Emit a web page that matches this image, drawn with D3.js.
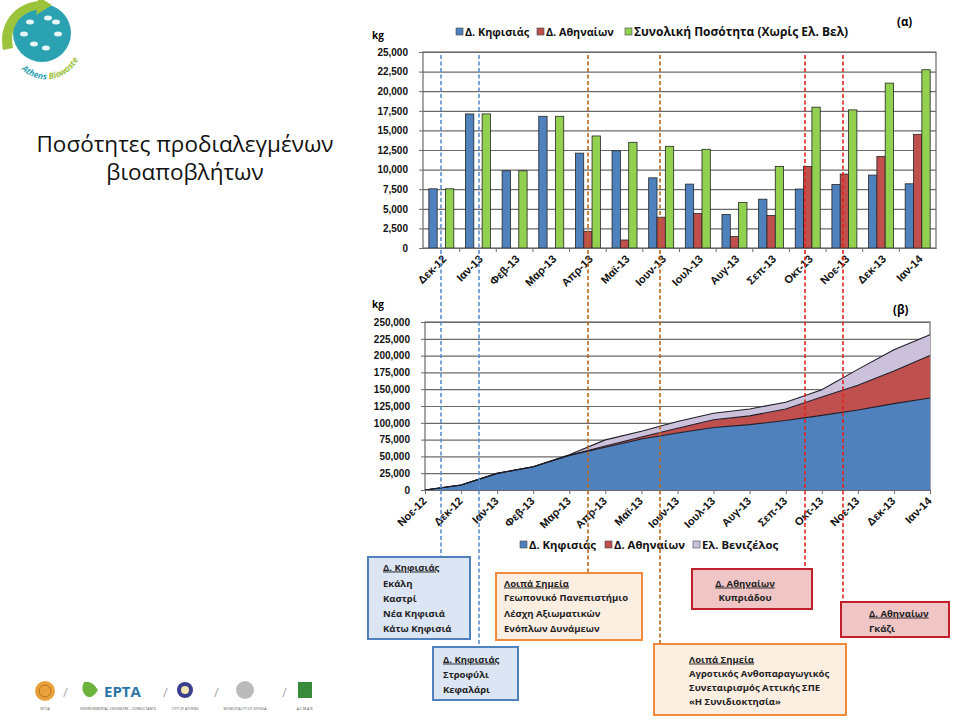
<!DOCTYPE html>
<html><head><meta charset="utf-8">
<script src="https://cdn.jsdelivr.net/npm/d3@7"></script>
<style>
body{margin:0;background:#fff;}
svg{display:block;font-family:"Open Sans","Noto Sans",sans-serif;}
</style></head>
<body><svg id="c" width="960" height="720"></svg>
<script>
// ---------- DATA ----------
const barCats = ["Δεκ-12","Ιαν-13","Φεβ-13","Μαρ-13","Απρ-13","Μαϊ-13","Ιουν-13","Ιουλ-13","Αυγ-13","Σεπ-13","Οκτ-13","Νοε-13","Δεκ-13","Ιαν-14"];
const barKifisia   = [7550,17100,9850,16800,12100,12400,8950,8150,4270,6230,7520,8100,9300,8190];
const barAthinaion = [0,0,0,0,2130,1020,3930,4390,1450,4140,10410,9430,11690,14500];
const barTotal     = [7550,17100,9850,16800,14290,13480,12970,12590,5800,10410,17960,17620,21030,22740];
const barSeriesNames = ["Δ. Κηφισιάς","Δ. Αθηναίων","Συνολική Ποσότητα (Χωρίς Ελ. Βελ)"];
const yTicksTop = [0,2500,5000,7500,10000,12500,15000,17500,20000,22500,25000];

const areaCats = ["Νοε-12","Δεκ-12","Ιαν-13","Φεβ-13","Μαρ-13","Απρ-13","Μαϊ-13","Ιουν-13","Ιουλ-13","Αυγ-13","Σεπ-13","Οκτ-13","Νοε-13","Δεκ-13","Ιαν-14"];
const areaKifisia   = [0,7500,24700,34600,51500,63500,75800,84800,93000,97300,103500,111000,119000,128500,137000];
const areaAthinaion = [0,0,0,0,0,2100,3200,7100,11500,13000,17100,27500,37000,48700,63200];
const areaVenizelos = [0,0,0,0,800,9000,8500,10000,9800,10300,9900,10800,23500,31500,31000];
const areaSeriesNames = ["Δ. Κηφισιάς","Δ. Αθηναίων","Ελ. Βενιζέλος"];
const yTicksBottom = [0,25000,50000,75000,100000,125000,150000,175000,200000,225000,250000];

const title = ["Ποσότητες προδιαλεγμένων","βιοαποβλήτων"];

const markers = [
  {color:"#5b8fd0", end:557},
  {color:"#5b8fd0", end:647},
  {color:"#b8661e", end:573},
  {color:"#b8661e", end:644},
  {color:"#e3241f", end:569},
  {color:"#e3241f", end:602}
];
const boxes = [
  {x:368,y:557,w:102,h:82, fill:"#dbe5f3", stroke:"#4f81bd", tx:383, anchor:"start", lines:["Δ.  Κηφισιάς","Εκάλη","Καστρί","Νέα Κηφισιά","Κάτω Κηφισιά"], ys:[567,583,598,613,628]},
  {x:433,y:647,w:85,h:53, fill:"#dbe5f3", stroke:"#4f81bd", tx:443, anchor:"start", lines:["Δ.  Κηφισιάς","Στροφύλι","Κεφαλάρι"], ys:[659,674,689]},
  {x:496,y:573,w:146,h:67, fill:"#fdeee2", stroke:"#f08a3c", tx:504, anchor:"start", lines:["Λοιπά Σημεία","Γεωπονικό Πανεπιστήμιο","Λέσχη Αξιωματικών","Ενόπλων Δυνάμεων"], ys:[583,597,613,628]},
  {x:654,y:644,w:192,h:71, fill:"#fdeee2", stroke:"#f08a3c", tx:689, anchor:"start", lines:["Λοιπά Σημεία","Αγροτικός Ανθοπαραγωγικός","Συνεταιρισμός Αττικής ΣΠΕ","«Η Συνιδιοκτησία»"], ys:[659,673,687,701]},
  {x:692,y:569,w:120,h:40, fill:"#f0c5c6", stroke:"#c0202a", tx:745, anchor:"middle", lines:["Δ.  Αθηναίων","Κυπριάδου"], ys:[583,597]},
  {x:841,y:602,w:108,h:35, fill:"#f0c5c6", stroke:"#c0202a", tx:869, anchor:"start", lines:["Δ.  Αθηναίων","Γκάζι"], ys:[613,628]}
];

// ---------- DRAW ----------
const svg = d3.select("#c");
const fmt = d3.format(",");
const cBlue="#4f81bd", cRed="#c0504d", cGreen="#92d050", cPurple="#ccc1da";
const grid="#6b6b6b";

// logo
const logo = svg.append("g");
logo.append("circle").attr("cx",42).attr("cy",33).attr("r",29).attr("fill","#2ba2b2");
logo.append("path").attr("d","M3,50 C-2,24 14,4 38,1 L37,-4 L52,5 L36,15 L37,10 C20,12 9,28 13,48 Z").attr("fill","#9cc33c");
[[30,22],[48,18],[58,34],[34,44],[46,48],[24,34],[56,22]].forEach(p=>{
  logo.append("ellipse").attr("cx",p[0]).attr("cy",p[1]).attr("rx",4).attr("ry",2.5).attr("fill","#e9f6f7");
});
logo.append("path").attr("id","lgarc").attr("d","M20,68 A36,36 0 0 0 82,40").attr("fill","none");
logo.append("text").attr("font-size",8.5).attr("font-style","italic").attr("font-weight","bold")
  .append("textPath").attr("href","#lgarc").attr("startOffset","2%")
  .selectAll("tspan").data([["Athens ","#2ba2b2"],["Biowaste","#9cc33c"]]).join("tspan")
  .attr("fill",d=>d[1]).text(d=>d[0]);

// title
svg.append("g").selectAll("text").data(title).join("text")
  .attr("x",185).attr("y",(d,i)=>152+i*28).attr("text-anchor","middle")
  .attr("font-size",22.5).attr("fill","#111").text(d=>d);

// ---------- TOP BAR CHART ----------
const gTop = svg.append("g");
const x0 = d3.scaleBand().domain(barCats).range([423,936]).paddingInner(0.318).paddingOuter(0.159);
const x1 = d3.scaleBand().domain([0,1,2]).range([0,x0.bandwidth()]);
const yT = d3.scaleLinear().domain([0,25000]).range([248,52]);
const gy = gTop.append("g").attr("transform","translate(423,0)")
  .call(d3.axisLeft(yT).tickValues(yTicksTop).tickSize(-513).tickSizeOuter(0).tickFormat(fmt));
gy.select(".domain").remove();
gy.selectAll("line").attr("stroke",grid).attr("stroke-width",1.2);
gy.selectAll("text").attr("x",-15).attr("font-size",10).attr("font-weight","bold").attr("fill","#111");
gy.selectAll(".tick").append("line").attr("x1",-4).attr("x2",0).attr("stroke",grid);
gTop.append("rect").attr("x",423).attr("y",52).attr("width",513).attr("height",196).attr("fill","none").attr("stroke",grid).attr("stroke-width",1.2);
const barVals = [barKifisia,barAthinaion,barTotal];
const barCols = [cBlue,cRed,cGreen];
barVals.forEach((arr,s)=>{
  gTop.append("g").selectAll("rect").data(arr).join("rect")
    .attr("x",(d,i)=>x0(barCats[i])+x1(s)).attr("width",x1.bandwidth())
    .attr("y",d=>yT(d)).attr("height",d=>yT(0)-yT(d))
    .attr("fill",barCols[s]).attr("stroke","#262626").attr("stroke-width",0.8)
    .attr("display",d=>d>0?null:"none");
});
const gxT = gTop.append("g").attr("transform","translate(0,248)")
  .call(d3.axisBottom(x0).tickSize(0).tickSizeOuter(0));
gxT.select(".domain").attr("stroke",grid).attr("stroke-width",1.2);
gxT.selectAll("text").attr("y",0).attr("dy","0.35em").attr("x",0)
  .attr("transform","translate(3,9) rotate(-45)").style("text-anchor","end")
  .attr("font-size",11).attr("font-weight","bold").attr("fill","#111");
gTop.append("g").selectAll("line").data(barCats.slice(1)).join("line")
  .attr("x1",d=>x0(d)-x0.step()*0.159).attr("x2",d=>x0(d)-x0.step()*0.159)
  .attr("y1",248).attr("y2",252).attr("stroke",grid);
gTop.append("text").attr("x",372).attr("y",39).attr("font-size",10).attr("font-weight","bold").text("kg");
gTop.append("text").attr("x",897).attr("y",26).attr("font-size",11.5).attr("font-weight","bold").text("(α)");
const legT = gTop.append("g");
[[456,0,10.8],[537,1,10.8],[625,2,12]].forEach(([lx,i,fs])=>{
  legT.append("rect").attr("x",lx).attr("y",28).attr("width",7).attr("height",7).attr("fill",barCols[i]).attr("stroke","#444").attr("stroke-width",0.6);
  legT.append("text").attr("x",lx+9).attr("y",35.8).attr("font-size",fs).attr("font-weight","bold").attr("fill","#111").text(barSeriesNames[i]);
});

// ---------- BOTTOM AREA CHART ----------
const gBot = svg.append("g");
const xB = d3.scalePoint().domain(areaCats).range([425,930]);
const yB = d3.scaleLinear().domain([0,250000]).range([490,322]);
const gyB = gBot.append("g").attr("transform","translate(425,0)")
  .call(d3.axisLeft(yB).tickValues(yTicksBottom).tickSize(-505).tickSizeOuter(0).tickFormat(fmt));
gyB.select(".domain").remove();
gyB.selectAll("line").attr("stroke",grid).attr("stroke-width",1.2);
gyB.selectAll("text").attr("x",-15).attr("font-size",10).attr("font-weight","bold").attr("fill","#111");
gyB.selectAll(".tick").append("line").attr("x1",-4).attr("x2",0).attr("stroke",grid);
gBot.append("rect").attr("x",425).attr("y",322).attr("width",505).attr("height",168).attr("fill","none").attr("stroke",grid).attr("stroke-width",1.2);
const rows = areaCats.map((c,i)=>({cat:c,k:areaKifisia[i],a:areaAthinaion[i],v:areaVenizelos[i]}));
const stack = d3.stack().keys(["k","a","v"])(rows);
const areaCols=[cBlue,cRed,cPurple];
const area = d3.area().x(d=>xB(d.data.cat)).y0(d=>yB(d[0])).y1(d=>yB(d[1]));
const line = d3.line().x(d=>xB(d.data.cat)).y(d=>yB(d[1]));
stack.forEach((s,i)=>{
  gBot.append("path").datum(s).attr("d",area).attr("fill",areaCols[i]);
});
stack.forEach((s,i)=>{
  gBot.append("path").datum(s).attr("d",line).attr("fill","none").attr("stroke","#1e1e2a").attr("stroke-width",1.1);
});
const gxB = gBot.append("g").attr("transform","translate(0,490)")
  .call(d3.axisBottom(xB).tickSize(4).tickSizeOuter(0));
gxB.select(".domain").attr("stroke",grid).attr("stroke-width",1.2);
gxB.selectAll("line").attr("stroke",grid);
gxB.selectAll("text").attr("y",0).attr("dy","0.35em").attr("x",0)
  .attr("transform","translate(-1,9) rotate(-45)").style("text-anchor","end")
  .attr("font-size",11).attr("font-weight","bold").attr("fill","#111");
gBot.append("text").attr("x",372).attr("y",308).attr("font-size",10).attr("font-weight","bold").text("kg");
gBot.append("text").attr("x",893).attr("y",314).attr("font-size",11.5).attr("font-weight","bold").text("(β)");
const legB = gBot.append("g");
[[520,0],[605,1],[693,2]].forEach(([lx,i])=>{
  legB.append("rect").attr("x",lx).attr("y",541).attr("width",7).attr("height",7).attr("fill",areaCols[i]).attr("stroke","#444").attr("stroke-width",0.6);
  legB.append("text").attr("x",lx+9).attr("y",549).attr("font-size",11.3).attr("font-weight","bold").attr("fill","#111").text(areaSeriesNames[i]);
});

// ---------- dashed markers ----------
const mx = [441,479,588,660,805,843];
svg.append("g").selectAll("line").data(markers).join("line")
  .attr("x1",(d,i)=>mx[i]).attr("x2",(d,i)=>mx[i]).attr("y1",55).attr("y2",d=>d.end)
  .attr("stroke",d=>d.color).attr("stroke-width",1.6).attr("stroke-dasharray","4,2.5");

// ---------- boxes ----------
boxes.forEach(b=>{
  const g = svg.append("g");
  g.append("rect").attr("x",b.x).attr("y",b.y).attr("width",b.w).attr("height",b.h)
    .attr("fill",b.fill).attr("stroke",b.stroke).attr("stroke-width",2);
  b.lines.forEach((t,i)=>{
    g.append("text").attr("x",b.tx).attr("y",b.ys[i]+3.5).attr("text-anchor",b.anchor)
      .attr("font-size",9.5).attr("font-weight","bold").attr("fill","#222")
      .attr("text-decoration",i===0?"underline":null).text(t);
  });
});

// ---------- footer logos ----------
const ft = svg.append("g");
ft.append("circle").attr("cx",45).attr("cy",691).attr("r",10).attr("fill","#e9a23b");
ft.append("circle").attr("cx",45).attr("cy",691).attr("r",6).attr("fill","none").attr("stroke","#b8731b");
ft.append("path").attr("d","M84,682 Q92,680 98,690 Q92,700 86,696 Q80,690 84,682Z").attr("fill","#6cb33e");
ft.append("text").attr("x",104).attr("y",697).attr("font-size",15).attr("font-weight","bold").attr("fill","#2a76a8").text("EPTA");
ft.append("circle").attr("cx",185).attr("cy",690).attr("r",8).attr("fill","#3a3e8c");
ft.append("circle").attr("cx",185).attr("cy",690).attr("r",4).attr("fill","#f1e6b0");
ft.append("circle").attr("cx",245).attr("cy",690).attr("r",9).attr("fill","#bbb");
ft.append("rect").attr("x",298).attr("y",682).attr("width",14).attr("height",16).attr("fill","#3a8a3c");
[[63,"/"],[163,"/"],[214,"/"],[282,"/"]].forEach(([x,t])=>ft.append("text").attr("x",x).attr("y",697).attr("font-size",13).attr("fill","#aaa").text(t));
[[45,"NTUA"],[118,"ENVIRONMENTAL ENGINEERS - CONSULTANTS"],[185,"CITY OF ATHENS"],[245,"MUNICIPALITY OF KIFISSIA"],[305,"A.C.M.A.R."]].forEach(([x,t])=>
  ft.append("text").attr("x",x).attr("y",710).attr("text-anchor","middle").attr("font-size",3.5).attr("fill","#555").text(t));
</script></body></html>
